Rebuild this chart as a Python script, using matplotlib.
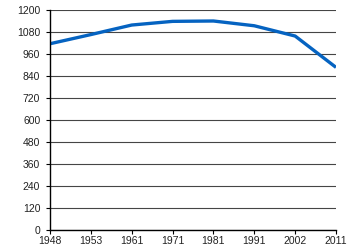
import numpy as np
import matplotlib.pyplot as plt

years = ['1948', '1953', '1961', '1971', '1981', '1991', '2002', '2011']
population = [1016, 1066, 1118, 1138, 1140, 1114, 1058, 887]
yticks = [0, 120, 240, 360, 480, 600, 720, 840, 960, 1080, 1200]

plt.rcParams['font.family'] = ['Liberation Sans', 'DejaVu Sans']

dpi = 100
fig = plt.figure(figsize=(350/dpi, 250/dpi), dpi=dpi)
ax = fig.add_axes([50/350, 20/250, 286/350, 220/250])

x = np.arange(len(years))
ax.plot(x, population, color='#0563c1', linewidth=2.4, solid_capstyle='butt')

ax.set_xlim(0, len(years) - 1)
ax.set_ylim(0, 1200)
ax.set_xticks(x)
ax.set_xticklabels(years)
ax.set_yticks(yticks)
ax.yaxis.grid(True, color='#454545', linewidth=0.8)
ax.set_axisbelow(True)

for s in ['top', 'right']:
    ax.spines[s].set_visible(False)
ax.spines['left'].set_linewidth(1.0)
ax.spines['bottom'].set_linewidth(1.0)
ax.tick_params(axis='both', labelsize=7.5, length=3, width=0.8, labelcolor='#222222')
ax.tick_params(axis='y', pad=4)
ax.tick_params(axis='x', pad=1)

fig.savefig('out.png', dpi=dpi)
